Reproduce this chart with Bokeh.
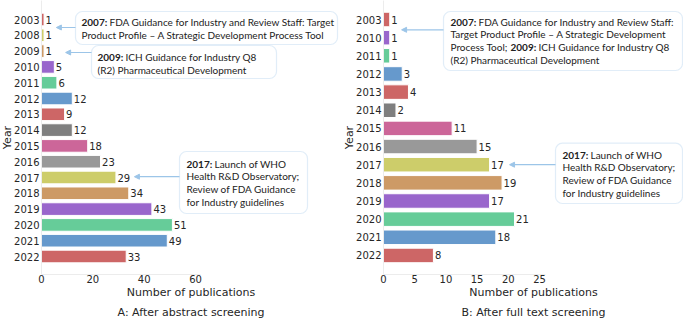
from bokeh.plotting import figure
from bokeh.layouts import row
from bokeh.models import (Range1d, FixedTicker, BoxAnnotation, Label, Arrow,
                          NormalHead, Title, ColumnDataSource)
from bokeh.core.properties import value
from bokeh.embed import file_html
from bokeh.resources import INLINE

# ---------------- data ----------------
years_a = ["2003", "2008", "2009", "2010", "2011", "2012", "2013", "2014",
           "2015", "2016", "2017", "2018", "2019", "2020", "2021", "2022"]
counts_a = [1, 1, 1, 5, 6, 12, 9, 12, 18, 23, 29, 34, 43, 51, 49, 33]

years_b = ["2003", "2010", "2011", "2012", "2013", "2014", "2015", "2016",
           "2017", "2018", "2019", "2020", "2021", "2022"]
counts_b = [1, 1, 1, 3, 4, 2, 11, 15, 17, 19, 17, 21, 18, 8]

ticks_a = [0, 20, 40, 60]
ticks_b = [0, 5, 10, 15, 20, 25]

year_colors = {
    "2003": "#cd6666", "2008": "#cdcd6a", "2009": "#cd9a66", "2010": "#9966cc",
    "2011": "#66cc99", "2012": "#6699cc", "2013": "#cd6666", "2014": "#7f7f7f",
    "2015": "#cc6699", "2016": "#999999", "2017": "#cdcd6a", "2018": "#cd9a66",
    "2019": "#9966cc", "2020": "#66cc99", "2021": "#6699cc", "2022": "#cd6666",
}

TXT = "#262626"
BOX = "#9cc5e8"
ANN_FONT = "Lato"
ANN_SIZE = "10px"
FRAME_H = 274
BOLD_W = 28  # px offset from a bold year prefix to the text that follows

# layout geometry (pixels)
A_LEFT, A_FW = 41, 299          # panel A: left border, frame width
B_LEFT, B_FW = 43, 300          # panel B
A_PX = 2.567                    # px per publication, panel A
B_PX = 6.24                     # px per publication, panel B
A_ROW = 15.8                    # px per row, panel A
B_ROW = 18.15                   # px per row, panel B
ROW0 = 19                       # first row centre below frame top
A_FRAME_X = A_LEFT
B_FRAME_X = A_LEFT + A_FW + B_LEFT


def ax(px):  # pixel x -> panel A data
    return (px - A_FRAME_X) / A_PX


def bx(px):
    return (px - B_FRAME_X) / B_PX


def ay(py):  # pixel y -> panel A row units
    return (py - ROW0) / A_ROW


def by(py):
    return (py - ROW0) / B_ROW


def panel(years, counts, ticks, frame_w, left_border, px_per, row_px,
          title, xbound):
    src = ColumnDataSource(dict(
        idx=list(range(len(years))),
        count=counts,
        year=years,
        color=[year_colors[y] for y in years],
        label=[str(c) for c in counts],
    ))
    y_top = -ROW0 / row_px
    y_bottom = (FRAME_H - ROW0) / row_px
    p = figure(frame_width=frame_w, frame_height=FRAME_H,
               x_range=Range1d(0, frame_w / px_per),
               y_range=Range1d(y_bottom, y_top),
               output_backend="svg", toolbar_location=None,
               min_border_left=left_border, min_border_right=0,
               min_border_top=0, min_border_bottom=0)
    p.outline_line_color = None
    p.xgrid.grid_line_color = None
    p.ygrid.grid_line_color = None

    p.hbar(y="idx", right="count", left=0, height=0.8, color="color",
           line_color="white", line_width=1, source=src)
    p.text(x="count", y="idx", text="label", x_offset=1.5,
           text_baseline="middle", text_align="left",
           text_font=value("DejaVu Sans"), text_font_size="10px",
           text_color=TXT, source=src)

    # x axis
    p.xaxis.ticker = FixedTicker(ticks=ticks)
    p.xaxis.bounds = xbound
    p.xaxis.axis_line_color = "#ececec"
    p.xaxis.major_tick_line_color = None
    p.xaxis.minor_tick_line_color = None
    p.xaxis.major_tick_out = 0
    p.xaxis.major_tick_in = 0
    p.xaxis.minor_tick_out = 0
    p.xaxis.major_label_standoff = 0
    p.xaxis.major_label_text_font = "DejaVu Sans"
    p.xaxis.major_label_text_font_size = "10px"
    p.xaxis.major_label_text_color = TXT
    p.xaxis.axis_label = "Number of publications"
    p.xaxis.axis_label_standoff = 0
    p.xaxis.axis_label_text_font = "DejaVu Sans"
    p.xaxis.axis_label_text_font_size = "11px"
    p.xaxis.axis_label_text_font_style = "normal"
    p.xaxis.axis_label_text_color = TXT

    # y axis
    p.yaxis.ticker = FixedTicker(ticks=list(range(len(years))))
    p.yaxis.major_label_overrides = {i: y for i, y in enumerate(years)}
    p.yaxis.axis_line_color = "#ececec"
    p.yaxis.major_tick_line_color = None
    p.yaxis.minor_tick_line_color = None
    p.yaxis.major_tick_out = 0
    p.yaxis.major_tick_in = 0
    p.yaxis.minor_tick_out = 0
    p.yaxis.major_label_standoff = 2
    p.yaxis.major_label_text_font = "DejaVu Sans"
    p.yaxis.major_label_text_font_size = "10px"
    p.yaxis.major_label_text_color = TXT

    p.add_layout(Title(text="Year", align="center", text_font="DejaVu Sans",
                       text_font_size="11px", text_font_style="normal",
                       text_color=TXT, standoff=-5, offset=0), "left")
    p.add_layout(Title(text=title, align="center", text_font="DejaVu Sans",
                       text_font_size="11px", text_font_style="normal",
                       text_color=TXT, standoff=4, offset=0), "below")
    return p


def callout(p, box, lines, arrow):
    left, right, top, bottom = box
    p.add_layout(BoxAnnotation(left=left, right=right, top=top, bottom=bottom,
                               fill_color="white", fill_alpha=1.0,
                               line_color=BOX, line_width=1.2,
                               border_radius=7))
    for (x, y, dx, text, bold) in lines:
        p.add_layout(Label(x=x, y=y, x_offset=dx, text=text, text_font=ANN_FONT,
                           text_font_size=ANN_SIZE, text_color="#222222",
                           text_font_style="bold" if bold else "normal",
                           text_baseline="middle", text_align="left"))
    x0, y0, x1 = arrow
    p.add_layout(Arrow(x_start=x0, y_start=y0, x_end=x1, y_end=y0,
                       line_color=BOX, line_width=1.2,
                       end=NormalHead(size=5, fill_color=BOX, line_color=BOX)))


# ---------------- panel A ----------------
pa = panel(years_a, counts_a, ticks_a, A_FW, A_LEFT, A_PX, A_ROW,
           "A: After abstract screening", (0, 62))

callout(pa, (ax(75), ax(337), ay(11), ay(44)),
        [(ax(81), ay(21), 0, "2007:", True),
         (ax(81), ay(21), BOLD_W, "FDA Guidance for Industry and Review Staff: Target", False),
         (ax(81), ay(34), 0, "Product Profile \u2013 A Strategic Development Process Tool", False)],
        (ax(75), ay(27), 5.8))
callout(pa, (ax(91), ax(276), ay(45), ay(78)),
        [(ax(97), ay(56), 0, "2009:", True),
         (ax(97), ay(56), BOLD_W, "ICH Guidance for Industry Q8", False),
         (ax(97), ay(69), 0, "(R2) Pharmaceutical Development", False)],
        (ax(91), ay(52), 9.4))
callout(pa, (ax(179), ax(307), ay(151), ay(213)),
        [(ax(186), ay(163), 0, "2017:", True),
         (ax(186), ay(163), BOLD_W, "Launch of WHO", False),
         (ax(186), ay(175), 0, "Health R&D Observatory;", False),
         (ax(186), ay(188), 0, "Review of FDA Guidance", False),
         (ax(186), ay(201), 0, "for Industry guidelines", False)],
        (ax(179), 9.95, 36.2))

# ---------------- panel B ----------------
pb = panel(years_b, counts_b, ticks_b, B_FW, B_LEFT, B_PX, B_ROW,
           "B: After full text screening", (0, 26))

callout(pb, (bx(443), bx(682), by(11), by(70)),
        [(bx(450), by(21), 0, "2007:", True),
         (bx(450), by(21), BOLD_W, "FDA Guidance for Industry and Review Staff:", False),
         (bx(450), by(33.7), 0, "Target Product Profile \u2013 A Strategic Development", False),
         (bx(450), by(46.3), 0, "Process Tool;", False),
         (bx(450), by(46.3), 60, "2009:", True),
         (bx(450), by(46.3), 60 + BOLD_W, "ICH Guidance for Industry Q8", False),
         (bx(450), by(59), 0, "(R2) Pharmaceutical Development", False)],
        (bx(443), by(29.3), 2.9))
callout(pb, (bx(555), bx(682), by(142.7), by(203)),
        [(bx(562), by(154), 0, "2017:", True),
         (bx(562), by(154), BOLD_W, "Launch of WHO", False),
         (bx(562), by(166), 0, "Health R&D Observatory;", False),
         (bx(562), by(179), 0, "Review of FDA Guidance", False),
         (bx(562), by(192.5), 0, "for Industry guidelines", False)],
        (bx(555), 8.0, 20.2))

layout = row(pa, pb, spacing=0)
open("out.html", "w").write(file_html(layout, INLINE))
